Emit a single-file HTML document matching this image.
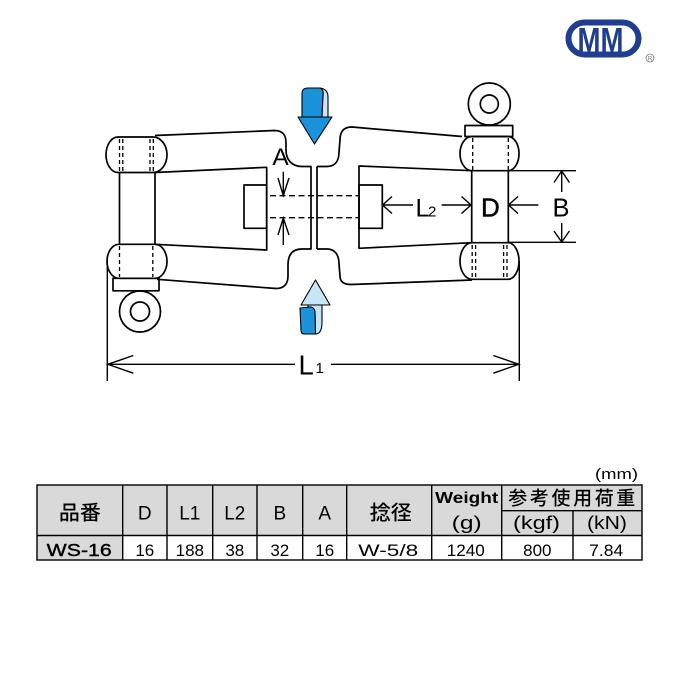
<!DOCTYPE html>
<html><head><meta charset="utf-8"><style>
html,body{margin:0;padding:0;background:#fff;}
svg{display:block;}
</style></head><body>
<svg width="680" height="680" viewBox="0 0 680 680" xmlns="http://www.w3.org/2000/svg">
<rect width="680" height="680" fill="#fff"/>
<!-- Logo -->
<rect x="568.5" y="22.5" width="70" height="32" rx="16" ry="16" fill="#fff" stroke="#1f3d91" stroke-width="6"/>
<text x="600.5" y="51.5" font-family="Liberation Sans, sans-serif" font-weight="bold" font-size="34" fill="#1f3d91" text-anchor="middle" textLength="46" lengthAdjust="spacingAndGlyphs">MM</text>
<circle cx="650" cy="58" r="4" fill="none" stroke="#777" stroke-width="0.8"/>
<text x="650" y="60.5" font-family="Liberation Sans, sans-serif" font-size="6" fill="#777" text-anchor="middle">R</text>

<g fill="none" stroke="#000" stroke-width="1.7" stroke-linejoin="round">
<!-- LEFT SHACKLE -->
<path d="M118,137 L153,137 A14,17.75 0 0 1 153,172.5 L118,172.5 A12,17.75 0 0 1 118,137 Z"/>
<path d="M119.5,172.5 L119.5,244 M155,172.5 L155,244"/>
<path d="M119,244.3 L155,244.3 A12,17 0 0 1 155,278.3 L119,278.3 A12,17 0 0 1 119,244.3 Z"/>
<rect x="113" y="278.3" width="46" height="12.5"/>
<circle cx="140" cy="311.5" r="20.5"/>
<circle cx="140" cy="311.5" r="9.5"/>
<path d="M155,135.5 L274,130.5 C283,130.5 286,135 286,143 L286,150 C286,160 292,166.5 302,166.5 L311,166.5 L311,249 L302,249 C292,249 288,255 288,265 L288,276 C288,284 284,288.5 276,288.5 L157,279.3"/>
<path d="M155,172.5 L266.7,167.3 L266.7,250 L155,244.3"/>
<rect x="244" y="185" width="22.7" height="43.3"/>
<!-- RIGHT SHACKLE -->
<path d="M317,166.5 L327,166.5 C335,166.5 339,161 339,152 L340,140 C340,131 344,127 352,127 L462,136.5"/>
<path d="M317,249 L327,249 C335,249 339,255 339,264 L340,276 C340,282 344,284.5 351,284.5 L472,280"/>
<path d="M317,166.5 L317,249"/>
<path d="M471.7,170.7 L359,166 L359,248.3 L471.7,242.7"/>
<rect x="359" y="185" width="23.3" height="43.3"/>
<circle cx="489.3" cy="104" r="21"/>
<circle cx="489.3" cy="104" r="9"/>
<rect x="465" y="125.5" width="47.7" height="11"/>
<path d="M472,136.5 L508,136.5 A11,17.1 0 0 1 508,170.7 L472,170.7 A12,17.1 0 0 1 472,136.5 Z"/>
<path d="M471.7,170.7 L471.7,242.7 M508.3,170.7 L508.3,242.7"/>
<path d="M472,242.7 L508,242.7 A11,18.3 0 0 1 508,279.3 L472,279.3 A12,18.3 0 0 1 472,242.7 Z"/>
</g>

<!-- dashed lines -->
<g fill="none" stroke="#000" stroke-width="1.3" stroke-dasharray="4,3">
<path d="M119.5,139 L119.5,171 M122.8,139 L122.8,171 M150,139 L150,171 M153.3,139 L153.3,171"/>
<path d="M119.5,246 L119.5,277 M152.8,246 L152.8,277"/>
<path d="M472.7,138 L472.7,170 M508.3,138 L508.3,170"/>
<path d="M472.2,245 L472.2,278 M475.6,245 L475.6,278 M503.6,245 L503.6,278 M507,245 L507,278"/>
</g>
<g fill="none" stroke="#000" stroke-width="1.4" stroke-dasharray="6,3.5">
<path d="M270,195.7 L359,195.7 M270,217.7 L359,217.7"/>
</g>

<!-- dimension lines -->
<g fill="none" stroke="#000" stroke-width="1.4">
<path d="M283.3,171.7 L283.3,195.5 M278,178 L283.3,195.5 L289,178"/>
<path d="M283.3,218 L283.3,245 M278,235 L283.3,218 L289,235"/>
<path d="M382.3,205 L413,205 M392,196.5 L382.5,205 L392,213.5"/>
<path d="M441.7,205 L471,205 M461.5,196.5 L471,205 L461.5,213.5"/>
<path d="M508.5,205 L538.3,205 M518,196.5 L508.5,205 L518,213.5"/>
<path d="M508.3,170.7 L576,170.7 M508.3,242.3 L576,242.3"/>
<path d="M561.7,171 L561.7,192 M554,182.5 L561.7,171 L569.4,182.5"/>
<path d="M561.7,223 L561.7,242 M554,231 L561.7,242 L569.4,231"/>
<path d="M107.3,261 L107.3,381 M519.3,261 L519.3,381"/>
<path d="M107.5,364.3 L295,364.3 M331,364.3 L519,364.3"/>
<path d="M133.3,355.5 L107.8,364.3 L133.3,373.2"/>
<path d="M493.3,355.5 L518.8,364.3 L493.3,373.2"/>
</g>

<!-- dimension labels -->
<g font-family="Liberation Sans, sans-serif" fill="#000">
<text x="280.5" y="165" font-size="24.5" text-anchor="middle">A</text>
<text x="415.5" y="216.7" font-size="25">L</text>
<text x="428" y="216.7" font-size="15">2</text>
<text x="481" y="216.7" font-size="26" stroke="#000" stroke-width="0.5">D</text>
<text x="552.5" y="216.7" font-size="25.5">B</text>
<text x="298.5" y="374.5" font-size="27.5">L</text>
<text x="315.5" y="373" font-size="15">1</text>
</g>

<!-- blue arrows -->
<g stroke="#000" stroke-width="1.1" stroke-linejoin="round">
<path d="M302,117 L302,94 Q302,88 308,88 L320,88 Q324,89 323,96 L322,117 Z" fill="#1b93dc"/>
<path d="M320,88 Q328,89 328,97 L328,117 L322,117 L323,96 Q324,89 320,88 Z" fill="#c6e6f7"/>
<path d="M298,117 L332,117 L314.5,144 Z" fill="#1b93dc"/>
<path d="M301,305 L330,305 L315.5,280 Z" fill="#c6e6f7"/>
<path d="M308,305 L322,305 L322,322 Q322,334 315.5,334 L315,313 Q315,308 311,307 L308,307 Z" fill="#c6e6f7"/>
<path d="M300,308 L311,307 Q315,308 315,313 L315.5,334 L304,334 Q301,334 301,330 Z" fill="#1b93dc"/>
</g>

<!-- TABLE -->
<text x="638" y="479" font-family="Liberation Sans, sans-serif" font-size="15" text-anchor="end" fill="#000" textLength="43" lengthAdjust="spacingAndGlyphs">(mm)</text>
<rect x="37" y="485" width="605" height="50.5" fill="#d9d9d9"/>
<rect x="37" y="535.5" width="85.7" height="24.5" fill="#d9d9d9"/>
<g stroke="#000" stroke-width="1.4" fill="none">
<rect x="37" y="485" width="605" height="75"/>
<path d="M37,535.5 L642,535.5 M501.7,510.7 L642,510.7"/>
<path d="M122.7,485 L122.7,560 M167,485 L167,560 M212.7,485 L212.7,560 M257,485 L257,560 M302.7,485 L302.7,560 M346.7,485 L346.7,560 M431.7,485 L431.7,560 M501.7,485 L501.7,560 M573,510.7 L573,560"/>
</g>
<g font-family="Liberation Sans, 'Noto Sans CJK JP', sans-serif" fill="#000" text-anchor="middle">
<text x="79.9" y="519.5" font-size="20" font-family="'Noto Sans CJK JP', sans-serif" font-weight="500" textLength="42" lengthAdjust="spacingAndGlyphs">品番</text>
<text x="144.8" y="519.5" font-size="19">D</text>
<text x="189.8" y="519.5" font-size="19">L1</text>
<text x="234.8" y="519.5" font-size="19">L2</text>
<text x="279.8" y="519.5" font-size="19">B</text>
<text x="324.7" y="519.5" font-size="19">A</text>
<text x="390.8" y="519.5" font-size="20" font-family="'Noto Sans CJK JP', sans-serif" font-weight="500" textLength="42" lengthAdjust="spacingAndGlyphs">捻径</text>
<text x="466.7" y="503" font-size="16" font-weight="bold" textLength="63" lengthAdjust="spacingAndGlyphs">Weight</text>
<text x="466.7" y="529" font-size="18" textLength="30" lengthAdjust="spacingAndGlyphs">(g)</text>
<text x="571.8" y="504.5" font-size="19" font-family="'Noto Sans CJK JP', sans-serif" font-weight="500" textLength="127" lengthAdjust="spacing">参考使用荷重</text>
<text x="536.5" y="529" font-size="18" textLength="47" lengthAdjust="spacingAndGlyphs">(kgf)</text>
<text x="607" y="529" font-size="18" textLength="40" lengthAdjust="spacingAndGlyphs">(kN)</text>
<text x="79.2" y="556" font-size="17.5" textLength="65" lengthAdjust="spacingAndGlyphs" stroke="#000" stroke-width="0.4">WS-16</text>
<text x="144.8" y="556" font-size="17">16</text>
<text x="189.8" y="556" font-size="17">188</text>
<text x="234.8" y="556" font-size="17">38</text>
<text x="279.8" y="556" font-size="17">32</text>
<text x="324.7" y="556" font-size="17">16</text>
<text x="388.3" y="556" font-size="17" textLength="60" lengthAdjust="spacingAndGlyphs">W-5/8</text>
<text x="465.8" y="556" font-size="17" textLength="38" lengthAdjust="spacingAndGlyphs">1240</text>
<text x="537.3" y="556" font-size="17">800</text>
<text x="606.2" y="556" font-size="17" textLength="34" lengthAdjust="spacingAndGlyphs">7.84</text>
</g>
</svg>
</body></html>
